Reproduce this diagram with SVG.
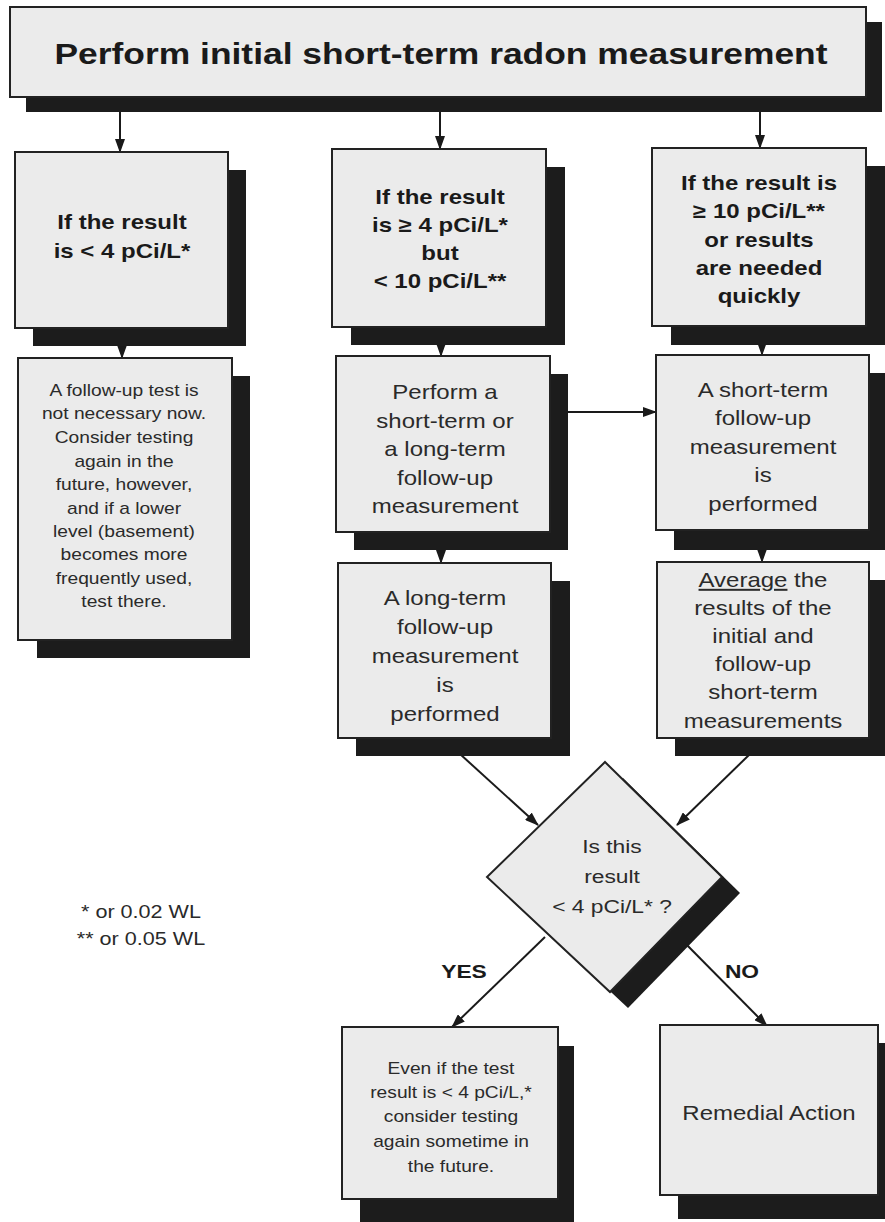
<svg xmlns="http://www.w3.org/2000/svg" width="885" height="1222" viewBox="0 0 885 1222">
<defs>
<style>
.box{fill:#ebebeb;stroke:#222;stroke-width:2}
.sh{fill:#1c1c1c}
.b{font-family:"Liberation Sans",Arial,sans-serif;font-weight:bold;fill:#1a1a1a;text-anchor:middle}
.r{font-family:"Liberation Sans",Arial,sans-serif;fill:#2a2a2a;text-anchor:middle}
.ln{stroke:#1a1a1a;stroke-width:2;fill:none;marker-end:url(#ah)}
</style>
<marker id="ah" viewBox="0 0 14 10" refX="13" refY="5" markerWidth="14" markerHeight="10" markerUnits="userSpaceOnUse" orient="auto">
<path d="M0,0 L14,5 L0,10 Z" fill="#1a1a1a"/>
</marker>
</defs>
<rect width="885" height="1222" fill="#ffffff"/>

<g id="connectors">
<line class="ln" x1="120" y1="112" x2="120" y2="152"/>
<line class="ln" x1="440" y1="112" x2="440" y2="149"/>
<line class="ln" x1="760" y1="112" x2="760" y2="148"/>
<line class="ln" x1="122" y1="328" x2="122" y2="358"/>
<line class="ln" x1="441" y1="327" x2="441" y2="356"/>
<line class="ln" x1="762" y1="326" x2="762" y2="355"/>
<line class="ln" x1="441" y1="532" x2="441" y2="563"/>
<line class="ln" x1="762" y1="530" x2="762" y2="562"/>
<line class="ln" x1="568" y1="412" x2="656" y2="412"/>
<line class="ln" x1="460" y1="754" x2="538" y2="825"/>
<line class="ln" x1="750" y1="754" x2="677" y2="825"/>
<line class="ln" x1="545" y1="937" x2="452" y2="1027"/>
<line class="ln" x1="680" y1="938" x2="767" y2="1026"/>
</g>

<g id="top">
<rect class="sh" x="26" y="22" width="856" height="90"/>
<rect class="box" x="10" y="7" width="856" height="90"/>
<text class="b" x="441" y="64" font-size="30" textLength="773" lengthAdjust="spacingAndGlyphs">Perform initial short-term radon measurement</text>
</g>

<g id="n-lt4">
<rect class="sh" x="33" y="170" width="213" height="176"/>
<rect class="box" x="15" y="152" width="213" height="176"/>
<g class="b" font-size="20" transform="translate(122,0) scale(1.2,1)">
<text x="0" y="229">If the result</text>
<text x="0" y="258">is &lt; 4 pCi/L*</text>
</g>
</g>

<g id="n-4to10">
<rect class="sh" x="351" y="167" width="214" height="178"/>
<rect class="box" x="332" y="149" width="214" height="178"/>
<g class="b" font-size="20" transform="translate(440,0) scale(1.2,1)">
<text x="0" y="204">If the result</text>
<text x="0" y="232">is ≥ 4 pCi/L*</text>
<text x="0" y="260">but</text>
<text x="0" y="288">&lt; 10 pCi/L**</text>
</g>
</g>

<g id="n-ge10">
<rect class="sh" x="671" y="166" width="214" height="179"/>
<rect class="box" x="652" y="148" width="214" height="178"/>
<g class="b" font-size="20" transform="translate(759,0) scale(1.2,1)">
<text x="0" y="190">If the result is</text>
<text x="0" y="218">≥ 10 pCi/L**</text>
<text x="0" y="247">or results</text>
<text x="0" y="275">are needed</text>
<text x="0" y="303">quickly</text>
</g>
</g>

<g id="n-nofollow">
<rect class="sh" x="37" y="376" width="213" height="282"/>
<rect class="box" x="18" y="358" width="214" height="282"/>
<g class="r" font-size="16" transform="translate(124,0) scale(1.2,1)">
<text x="0" y="396">A follow-up test is</text>
<text x="0" y="419">not necessary now.</text>
<text x="0" y="443">Consider testing</text>
<text x="0" y="467">again in the</text>
<text x="0" y="490">future, however,</text>
<text x="0" y="514">and if a lower</text>
<text x="0" y="537">level (basement)</text>
<text x="0" y="560">becomes more</text>
<text x="0" y="584">frequently used,</text>
<text x="0" y="607">test there.</text>
</g>
</g>

<g id="n-perform">
<rect class="sh" x="354" y="374" width="214" height="176"/>
<rect class="box" x="336" y="356" width="214" height="176"/>
<g class="r" font-size="20" transform="translate(445,0) scale(1.2,1)">
<text x="0" y="399">Perform a</text>
<text x="0" y="428">short-term or</text>
<text x="0" y="456">a long-term</text>
<text x="0" y="485">follow-up</text>
<text x="0" y="513">measurement</text>
</g>
</g>

<g id="n-short">
<rect class="sh" x="674" y="373" width="211" height="177"/>
<rect class="box" x="656" y="355" width="213" height="175"/>
<g class="r" font-size="20" transform="translate(763,0) scale(1.2,1)">
<text x="0" y="397">A short-term</text>
<text x="0" y="425">follow-up</text>
<text x="0" y="454">measurement</text>
<text x="0" y="482">is</text>
<text x="0" y="511">performed</text>
</g>
</g>

<g id="n-long">
<rect class="sh" x="356" y="581" width="214" height="175"/>
<rect class="box" x="338" y="563" width="213" height="175"/>
<g class="r" font-size="20" transform="translate(445,0) scale(1.2,1)">
<text x="0" y="605">A long-term</text>
<text x="0" y="634">follow-up</text>
<text x="0" y="663">measurement</text>
<text x="0" y="692">is</text>
<text x="0" y="721">performed</text>
</g>
</g>

<g id="n-average">
<rect class="sh" x="675" y="580" width="210" height="176"/>
<rect class="box" x="657" y="562" width="212" height="176"/>
<g class="r" font-size="20" transform="translate(763,0) scale(1.2,1)">
<text x="0" y="587"><tspan text-decoration="underline">Average</tspan> the</text>
<text x="0" y="615">results of the</text>
<text x="0" y="643">initial and</text>
<text x="0" y="671">follow-up</text>
<text x="0" y="699">short-term</text>
<text x="0" y="728">measurements</text>
</g>
</g>

<g id="n-decision">
<polygon class="sh" points="623,778 740,893 628,1008 505,893"/>
<polygon class="box" points="605,762 722,877 610,992 487,877"/>
<g class="r" font-size="19" transform="translate(612,0) scale(1.2,1)">
<text x="0" y="853">Is this</text>
<text x="0" y="883">result</text>
<text x="0" y="913">&lt; 4 pCi/L* ?</text>
</g>
</g>

<g id="labels" class="b" font-size="19">
<text x="0" y="978" transform="translate(464,0) scale(1.2,1)">YES</text>
<text x="0" y="978" transform="translate(742,0) scale(1.2,1)">NO</text>
</g>

<g id="footnote" class="r" font-size="18" transform="translate(141,0) scale(1.2,1)">
<text x="0" y="918">* or 0.02 WL</text>
<text x="0" y="945">** or 0.05 WL</text>
</g>

<g id="n-even">
<rect class="sh" x="360" y="1046" width="214" height="176"/>
<rect class="box" x="342" y="1027" width="216" height="172"/>
<g class="r" font-size="16" transform="translate(451,0) scale(1.2,1)">
<text x="0" y="1074">Even if the test</text>
<text x="0" y="1098">result is &lt; 4 pCi/L,*</text>
<text x="0" y="1122">consider testing</text>
<text x="0" y="1147">again sometime in</text>
<text x="0" y="1172">the future.</text>
</g>
</g>

<g id="n-remedial">
<rect class="sh" x="678" y="1043" width="207" height="176"/>
<rect class="box" x="660" y="1025" width="218" height="170"/>
<text class="r" x="0" y="1120" font-size="20" transform="translate(769,0) scale(1.2,1)">Remedial Action</text>
</g>
</svg>
